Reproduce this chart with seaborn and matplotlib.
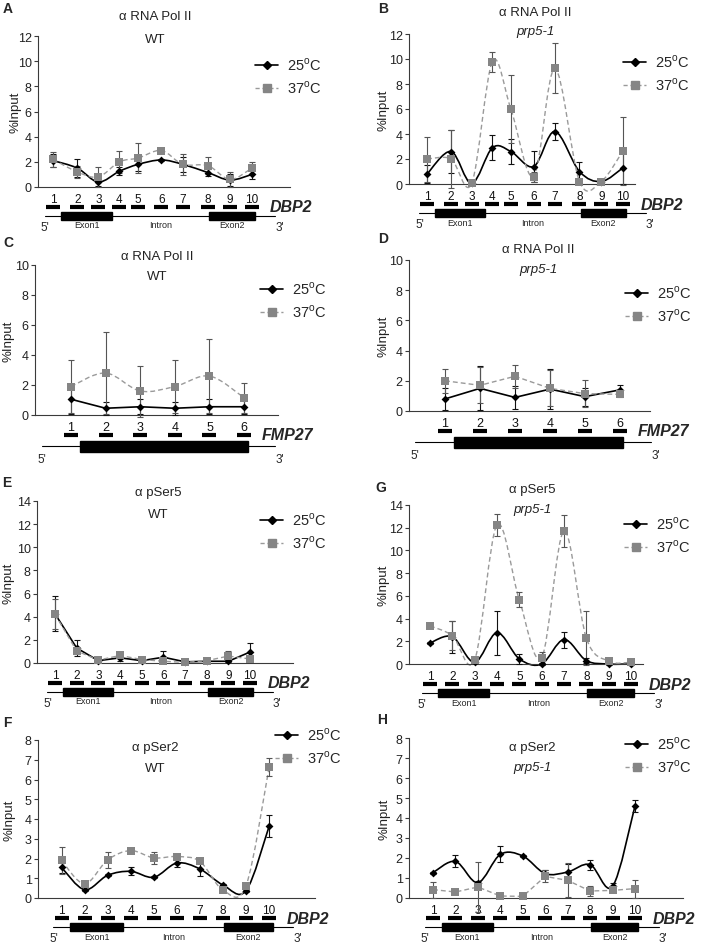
import numpy as np
import matplotlib
matplotlib.use("Agg")
import matplotlib.pyplot as plt
import matplotlib.transforms as mtransforms
from matplotlib.path import Path
from matplotlib.patches import PathPatch, Rectangle
from matplotlib.lines import Line2D
import seaborn as sns

# ---------------- data ----------------
dbp2_labels = ["1", "2", "3", "4", "5", "6", "7", "8", "9", "10"]
fmp27_labels = ["1", "2", "3", "4", "5", "6"]
pos_dbp2_pol2 = [1, 2.1, 3.05, 4.0, 4.85, 5.9, 6.87, 8.0, 9.0, 10]
pos_dbp2_ser = [1, 2, 3, 4, 5, 6, 7, 8, 9, 10]
pos_fmp27 = [1, 2, 3, 4, 5, 6]
series_labels = ["25$^{\\mathregular{o}}$C", "37$^{\\mathregular{o}}$C"]

a25 = [2.1, 1.5, 0.4, 1.25, 1.8, 2.15, 1.8, 1.15, 0.55, 1.0]
a25e = [0.5, 0.7, 0.3, 0.3, 0.5, 0.1, 0.6, 0.3, 0.5, 0.4]
a37 = [2.2, 1.2, 0.8, 2.0, 2.3, 2.9, 1.8, 1.7, 0.6, 1.5]
a37e = [0.6, 0.5, 0.8, 0.85, 1.2, 0.1, 0.85, 0.65, 0.6, 0.5]

b25 = [0.8, 2.6, 0.05, 2.9, 2.6, 1.4, 4.2, 1.0, 0.2, 1.3]
b25e = [0.7, 1.7, 0.05, 1.0, 1.0, 1.25, 0.7, 0.8, 0.1, 1.3]
b37 = [2.0, 2.0, 0.05, 9.8, 6.0, 0.6, 9.25, 0.2, 0.2, 2.65]
b37e = [1.8, 2.3, 0.05, 0.8, 2.75, 0.4, 2.0, 0.2, 0.1, 2.7]

c25 = [1.05, 0.45, 0.55, 0.45, 0.55, 0.55]
c25e = [1.0, 0.45, 0.5, 0.45, 0.5, 0.5]
c37 = [1.9, 2.8, 1.6, 1.9, 2.6, 1.15]
c37e = [1.75, 2.75, 1.7, 1.75, 2.45, 1.0]

d25 = [0.8, 1.5, 0.9, 1.45, 0.95, 1.4]
d25e = [0.75, 1.45, 0.75, 1.3, 0.6, 0.35]
d37 = [2.0, 1.7, 2.3, 1.5, 1.15, 1.1]
d37e = [0.8, 1.2, 0.75, 1.2, 0.9, 0.2]

e25 = [4.25, 1.3, 0.2, 0.45, 0.2, 0.5, 0.1, 0.15, 0.15, 0.95]
e25e = [1.5, 0.7, 0.05, 0.3, 0.1, 0.5, 0.05, 0.05, 0.1, 0.8]
e37 = [4.2, 1.05, 0.25, 0.65, 0.3, 0.15, 0.05, 0.2, 0.6, 0.35]
e37e = [1.3, 0.3, 0.05, 0.2, 0.1, 0.1, 0.05, 0.05, 0.45, 0.2]

g25 = [1.85, 2.4, 0.15, 2.75, 0.45, 0.0, 2.15, 0.3, 0.0, 0.0]
g25e = [0.1, 1.4, 0.1, 1.95, 0.45, 0.05, 0.7, 0.2, 0.05, 0.05]
g37 = [3.35, 2.5, 0.35, 12.25, 5.65, 0.55, 11.7, 2.3, 0.25, 0.15]
g37e = [0.1, 1.3, 0.2, 1.0, 0.65, 0.5, 1.4, 2.35, 0.1, 0.1]

f25 = [1.55, 0.42, 1.15, 1.35, 1.05, 1.77, 1.47, 0.66, 0.37, 3.63]
f25e = [0.3, 0.05, 0.05, 0.2, 0.05, 0.2, 0.35, 0.05, 0.05, 0.55]
f37 = [1.9, 0.72, 1.93, 2.4, 2.03, 2.1, 1.85, 0.4, 0.62, 6.62]
f37e = [0.7, 0.1, 0.4, 0.05, 0.3, 0.15, 0.1, 0.1, 0.05, 0.45]

h25 = [1.27, 1.83, 0.77, 2.18, 2.1, 1.22, 1.3, 1.67, 0.58, 4.6]
h25e = [0.05, 0.3, 0.1, 0.4, 0.05, 0.2, 0.4, 0.25, 0.15, 0.3]
h37 = [0.42, 0.3, 0.55, 0.1, 0.08, 1.08, 0.88, 0.35, 0.38, 0.47]
h37e = [0.4, 0.05, 1.25, 0.05, 0.05, 0.3, 0.85, 0.25, 0.05, 0.45]

# gene models (in amplicon units)
dbp2_line = (0.65, 11.05)
dbp2_exons = [(1.38, 3.66), (8.05, 10.15)]
fmp27_line = (0.15, 6.9)
fmp27_exons = [(1.27, 6.1)]

# ---------------- style ----------------
sns.set_theme(style="white")
FONT = ["Liberation Sans", "DejaVu Sans"]
plt.rcParams["font.family"] = FONT
plt.rcParams["mathtext.fontset"] = "custom"
plt.rcParams["mathtext.rm"] = "Liberation Sans"

W, H = 701, 945
fig = plt.figure(figsize=(W / 100, H / 100), dpi=100)
fig.patch.set_facecolor("white")
ov = fig.add_axes([0, 0, 1, 1])
ov.set_xlim(0, W)
ov.set_ylim(H, 0)
ov.axis("off")

C25 = "black"
C37 = "#858585"
L37 = "#9a9a9a"


def smooth_path(x, y):
    P = np.column_stack([np.asarray(x, float), np.asarray(y, float)])
    n = len(P)
    verts = [P[0]]
    codes = [Path.MOVETO]
    for i in range(n - 1):
        p0 = P[i - 1] if i > 0 else P[i]
        p1, p2 = P[i], P[i + 1]
        p3 = P[i + 2] if i + 2 < n else P[i + 1]
        verts += [p1 + (p2 - p0) / 6.0, p2 - (p3 - p1) / 6.0, p2]
        codes += [Path.CURVE4] * 3
    return Path(verts, codes)


panels = [
    dict(letter="A", title="α RNA Pol II", sub="WT", box=(38, 37, 290, 188), xlim=(0.32, 11.72),
         ymax=12, ystep=2, pos=pos_dbp2_pol2, labels=dbp2_labels, gene="DBP2",
         s25=(a25, a25e), s37=(a37, a37e), smooth=(True, True),
         letter_xy=(8, 9), title_xy=(155, 17, 40), leg=(255, 77), ylab_x=21),
    dict(letter="B", title="α RNA Pol II", sub="prp5-1", box=(409, 35, 635, 185), xlim=(0.17, 10.55),
         ymax=12, ystep=2, pos=pos_dbp2_pol2, labels=dbp2_labels, gene="DBP2",
         s25=(b25, b25e), s37=(b37, b37e), smooth=(True, True),
         letter_xy=(383, 9), title_xy=(535, 13, 32), leg=(623, 74), ylab_x=390),
    dict(letter="C", title="α RNA Pol II", sub="WT", box=(35, 266, 278, 416), xlim=(-0.04, 6.98),
         ymax=10, ystep=2, pos=pos_fmp27, labels=fmp27_labels, gene="FMP27",
         s25=(c25, c25e), s37=(c37, c37e), smooth=(False, True),
         letter_xy=(8, 243), title_xy=(157, 257, 277), leg=(260, 301), ylab_x=15),
    dict(letter="D", title="α RNA Pol II", sub="prp5-1", box=(409, 261, 650, 412), xlim=(-0.03, 6.86),
         ymax=10, ystep=2, pos=pos_fmp27, labels=fmp27_labels, gene="FMP27",
         s25=(d25, d25e), s37=(d37, d37e), smooth=(False, False),
         letter_xy=(383, 239), title_xy=(538, 250, 270), leg=(625, 305), ylab_x=390),
    dict(letter="E", title="α pSer5", sub="WT", box=(37, 502, 293, 664), xlim=(0.17, 11.98),
         ymax=14, ystep=2, pos=pos_dbp2_ser, labels=dbp2_labels, gene="DBP2",
         s25=(e25, e25e), s37=(e37, e37e), smooth=(False, False),
         letter_xy=(7, 483), title_xy=(158, 493, 515), leg=(260, 532), ylab_x=15),
    dict(letter="G", title="α pSer5", sub="prp5-1", box=(409, 506, 643, 665), xlim=(0.06, 10.54),
         ymax=14, ystep=2, pos=pos_dbp2_ser, labels=dbp2_labels, gene="DBP2",
         s25=(g25, g25e), s37=(g37, g37e), smooth=(True, True),
         letter_xy=(381, 488), title_xy=(532, 490, 510), leg=(624, 536), ylab_x=390),
    dict(letter="F", title="α pSer2", sub="WT", box=(38, 741, 315, 899), xlim=(-0.02, 11.99),
         ymax=8, ystep=1, pos=pos_dbp2_ser, labels=dbp2_labels, gene="DBP2",
         s25=(f25, f25e), s37=(f37, f37e), smooth=(True, True),
         letter_xy=(7, 723), title_xy=(155, 748, 769), leg=(275, 747), ylab_x=16),
    dict(letter="H", title="α pSer2", sub="prp5-1", box=(409, 739, 683, 899), xlim=(-0.07, 12.14),
         ymax=8, ystep=1, pos=pos_dbp2_ser, labels=dbp2_labels, gene="DBP2",
         s25=(h25, h25e), s37=(h37, h37e), smooth=(True, False),
         letter_xy=(382, 720), title_xy=(532, 748, 768), leg=(625, 756), ylab_x=391),
]

for p in panels:
    L, T, R, B = p["box"]
    ax = fig.add_axes([L / W, 1 - B / H, (R - L) / W, (B - T) / H])
    ax.set_facecolor("none")
    ax.set_xlim(*p["xlim"])
    ax.set_ylim(0, p["ymax"])
    ax.set_yticks(np.arange(0, p["ymax"] + 0.01, p["ystep"]))
    ax.set_xticks([])
    for s in ["top", "right"]:
        ax.spines[s].set_visible(False)
    for s in ["left", "bottom"]:
        ax.spines[s].set_color("#3a3a3a")
        ax.spines[s].set_linewidth(0.8)
    ax.tick_params(axis="y", direction="out", length=3, width=0.8, color="#3a3a3a",
                   labelsize=9, pad=1.5, labelcolor="#222222", left=True)
    ax.set_ylabel("%Input", fontsize=9.5, color="#222222")
    ax.yaxis.set_label_coords((p["ylab_x"] - L) / (R - L), 0.5)

    x = np.asarray(p["pos"], float)
    for (vals, errs), col, lcol, mk, ms, sm, ls, lw, ecol in [
        (p["s25"], C25, C25, "D", 16, p["smooth"][0], "-", 1.2, "#111111"),
        (p["s37"], C37, L37, "s", 32, p["smooth"][1], (0, (3.5, 2.2)), 1.0, "#555555"),
    ]:
        y = np.asarray(vals, float)
        if sm:
            ax.add_patch(PathPatch(smooth_path(x, y), fill=False, edgecolor=lcol,
                                   lw=lw, linestyle=ls, clip_on=False, zorder=2))
        else:
            ax.plot(x, y, color=lcol, lw=lw, linestyle=ls, zorder=2)
        ax.errorbar(x, y, yerr=errs, fmt="none", ecolor=ecol, elinewidth=0.8, capsize=2,
                    capthick=0.8, zorder=3, clip_on=False)
        sns.scatterplot(x=x, y=y, ax=ax, marker=mk, s=ms, color=col, edgecolor=col,
                        linewidth=0, zorder=4, legend=False, clip_on=False)

    # legend
    handles = [
        Line2D([], [], color="black", lw=1.2, marker="D", ms=3.8),
        Line2D([], [], color=L37, lw=1.0, ls=(0, (3, 2)), marker="s", ms=5.2,
               mfc=C37, mec=C37),
    ]
    lx, ly = p["leg"]
    ax.legend(handles, series_labels, loc="center left", bbox_to_anchor=(lx / W, 1 - ly / H),
              bbox_transform=fig.transFigure, frameon=False, fontsize=10.5, handlelength=1.6,
              handletextpad=0.6, labelspacing=0.45, borderpad=0, borderaxespad=0)

    # texts
    ov.text(*p["letter_xy"], p["letter"], fontsize=10, fontweight="bold", ha="center", va="center")
    tx, ty1, ty2 = p["title_xy"]
    ov.text(tx, ty1, p["title"], fontsize=9.5, ha="center", va="center", color="#222222")
    ov.text(tx, ty2, p["sub"], fontsize=9.5, ha="center", va="center", color="#222222",
            style="normal" if p["sub"] == "WT" else "italic")

    # gene diagram below the axis (x follows the data axis)
    tr = mtransforms.blended_transform_factory(ax.transData, ov.transData)
    fmp = p["gene"] == "FMP27"
    y_lab, y_bar = B + 12, B + 20
    for xi, lab in zip(x, p["labels"]):
        ov.text(xi, y_lab, lab, transform=tr, fontsize=9 if fmp else 8.5, ha="center",
                va="center", color="#111111")
    for xi in x:
        ov.plot([xi], [y_bar], transform=tr, marker="_", ms=9.5, mew=3.0, color="black",
                clip_on=False)
    gtr = mtransforms.offset_copy(tr, fig=fig, x=18, y=0, units="dots")
    ov.text(x[-1], y_bar, p["gene"], transform=gtr, fontsize=11.5, fontweight="bold",
            style="italic", ha="left", va="center")
    line = fmp27_line if fmp else dbp2_line
    exons = fmp27_exons if fmp else dbp2_exons
    y_line = B + (31 if fmp else 29)
    ov.plot(line, [y_line, y_line], transform=tr, color="black", lw=0.8, clip_on=False)
    bh = 11 if fmp else 8
    for e0, e1 in exons:
        ov.add_patch(Rectangle((e0, y_line - bh / 2), e1 - e0, bh, transform=tr,
                               color="black", clip_on=False))
    y_t = y_line + (13 if fmp else 11)
    ov.text(line[0], y_t, "5'", transform=tr, fontsize=8.5, ha="center", va="center")
    ov.text(line[1], y_t, "3'", transform=tr, fontsize=8.5, ha="left", va="center")
    if not fmp:
        yx = y_line + 9
        ov.text(np.mean(exons[0]), yx, "Exon1", transform=tr, fontsize=6.5, ha="center", va="center")
        ov.text((exons[0][1] + exons[1][0]) / 2, yx, "Intron", transform=tr, fontsize=6.5,
                ha="center", va="center")
        ov.text(np.mean(exons[1]), yx, "Exon2", transform=tr, fontsize=6.5, ha="center", va="center")

fig.savefig("out.png", dpi=100, facecolor="white")
